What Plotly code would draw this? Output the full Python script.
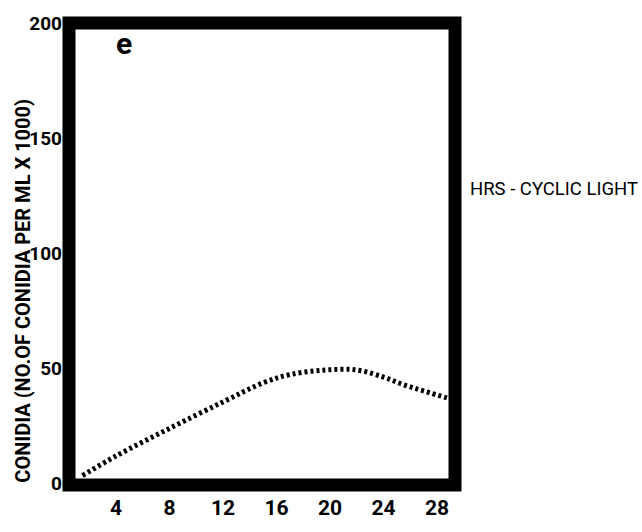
import plotly.graph_objects as go

# Data
hours = [1.5, 4, 8, 12, 15, 17, 19.5, 22, 24, 25.5, 27, 29.2]
conidia = [3.5, 12, 24, 35.5, 43.8, 47.4, 49.3, 49.4, 46.3, 43, 40.3, 36.5]

x_ticks = [4, 8, 12, 16, 20, 24, 28]
y_ticks = [0, 50, 100, 150, 200]

y_title = "CONIDIA (NO.OF CONIDIA PER ML X 1000)"
x_title = "HRS - CYCLIC LIGHT"
panel_label = "e"

FONT = "Roboto, Liberation Sans, sans-serif"

fig = go.Figure()
fig.add_trace(go.Scatter(
    x=hours, y=conidia, mode="lines",
    line=dict(color="black", width=5, dash="3px,3px", shape="spline", smoothing=1),
    showlegend=False, hoverinfo="skip",
))

fig.update_layout(
    width=642, height=532,
    margin=dict(l=69, r=187, t=14, b=44),
    paper_bgcolor="white", plot_bgcolor="white",
    font=dict(family=FONT, color="black"),
    xaxis=dict(
        range=[0.49, 29.35], tickvals=x_ticks, ticktext=[str(v) for v in x_ticks],
        showgrid=False, zeroline=False, showline=False, ticks="",
        tickfont=dict(family=FONT, size=21, color="black", weight="bold"),
        ticklabelstandoff=8,
    ),
    yaxis=dict(
        range=[-0.6, 200.2], tickvals=y_ticks, ticktext=[str(v) for v in y_ticks],
        showgrid=False, zeroline=False, showline=False, ticks="",
        tickfont=dict(family=FONT, size=19, color="black", weight="bold"),
        ticklabelstandoff=6,
    ),
    shapes=[dict(
        type="rect", xref="paper", yref="paper", x0=0, x1=1, y0=0, y1=1,
        line=dict(color="black", width=13), layer="above",
    )],
    annotations=[
        dict(text=y_title, textangle=-90, xref="paper", yref="paper",
             x=-0.12, y=0.42, xanchor="center", yanchor="middle", showarrow=False,
             font=dict(family=FONT, size=20, color="black", weight="bold")),
        dict(text=x_title, xref="paper", yref="paper",
             x=1.033, y=0.64, xanchor="left", yanchor="middle", showarrow=False,
             font=dict(family=FONT, size=18.5, color="black")),
        dict(text=panel_label, xref="paper", yref="paper",
             x=0.143, y=0.955, xanchor="center", yanchor="middle", showarrow=False,
             font=dict(family=FONT, size=30, color="black", weight="bold")),
    ],
)

fig.write_html("out.html")
